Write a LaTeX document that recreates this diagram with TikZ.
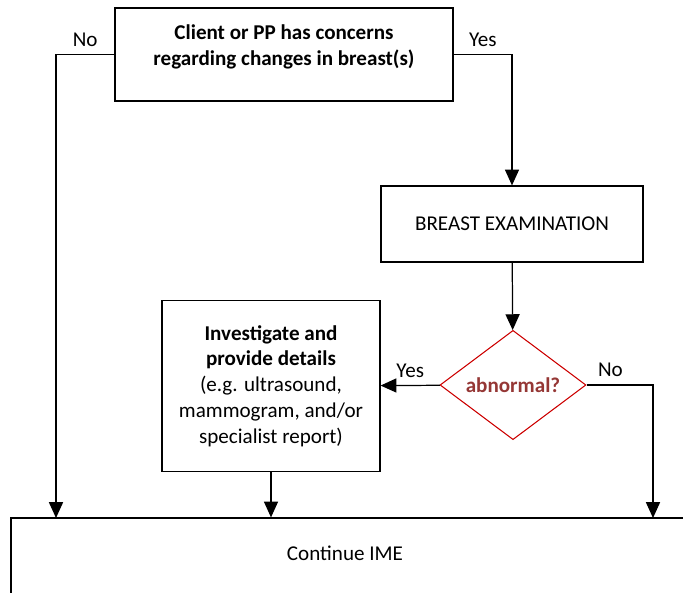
\documentclass[tikz,border=0pt]{standalone}
\usepackage{fontspec}
\setmainfont{Carlito}
\usetikzlibrary{arrows.meta,shapes.geometric,positioning}
\colorlet{Decision}{red!80!black}
\definecolor{DecisionText}{HTML}{953735}

\begin{document}
\begin{tikzpicture}[
    x=0.02cm, y=-0.02cm,
    every node/.style={font={\fontsize{12}{14.7}\selectfont}},
    boldtext/.style={font={\fontsize{12}{14.7}\selectfont\bfseries}},
    box/.style={draw, rectangle, line width=0.7pt, inner sep=0pt},
    decision/.style={draw=Decision, diamond, line width=0.6pt, inner sep=0pt,
      minimum width=2.92cm, minimum height=2.12cm},
    flow/.style={line width=0.7pt, -{Triangle[width=8pt,length=9pt]}},
    answer/.style={above=1pt}
  ]
  \useasboundingbox (0,0) rectangle (683,592);
  \clip (0,0) rectangle (683,592);

  \node[box, minimum width=6.76cm, minimum height=1.86cm] (concern) at (284,54.5) {};
  \node[boldtext, align=center] (concerntext) at (284,47)
  {Client or PP has concerns\\regarding changes in breast(s)};

  \node[box, minimum width=5.24cm, minimum height=1.52cm] (exam) at (512,224)
  {BREAST EXAMINATION};

  \node[decision] (check) at (513,385)
  {\textcolor{DecisionText}{\bfseries abnormal?}};

  \node[box, minimum width=4.36cm, minimum height=3.42cm, align=center] (details) at (271,386)
  {\textbf{Investigate and}\\\textbf{provide details}\\(e.g. ultrasound,\\mammogram, and/or\\specialist report)};

  \node[box, minimum width=14.18cm, minimum height=2.44cm] (ime) at (365.5,579) {};
  \node (imetext) at (345,553) {Continue IME};

  \coordinate (nodrop) at (56,518);
  \coordinate (normaldrop) at (653,518);

  \draw[flow] (concern.west) -| node[pos=0.25, answer] {No} (nodrop);
  \draw[flow] (concern.east) -| node[pos=0.25, answer] {Yes} (exam.north);
  \draw[flow] (exam) -- (check);
  \draw[flow] (check) -- node[midway, answer] {Yes} (details);
  \draw[flow] (check.east) -| node[pos=0.18, answer] {No} (normaldrop);
  \draw[flow] (details) -- (details |- ime.north);
\end{tikzpicture}
\end{document}
